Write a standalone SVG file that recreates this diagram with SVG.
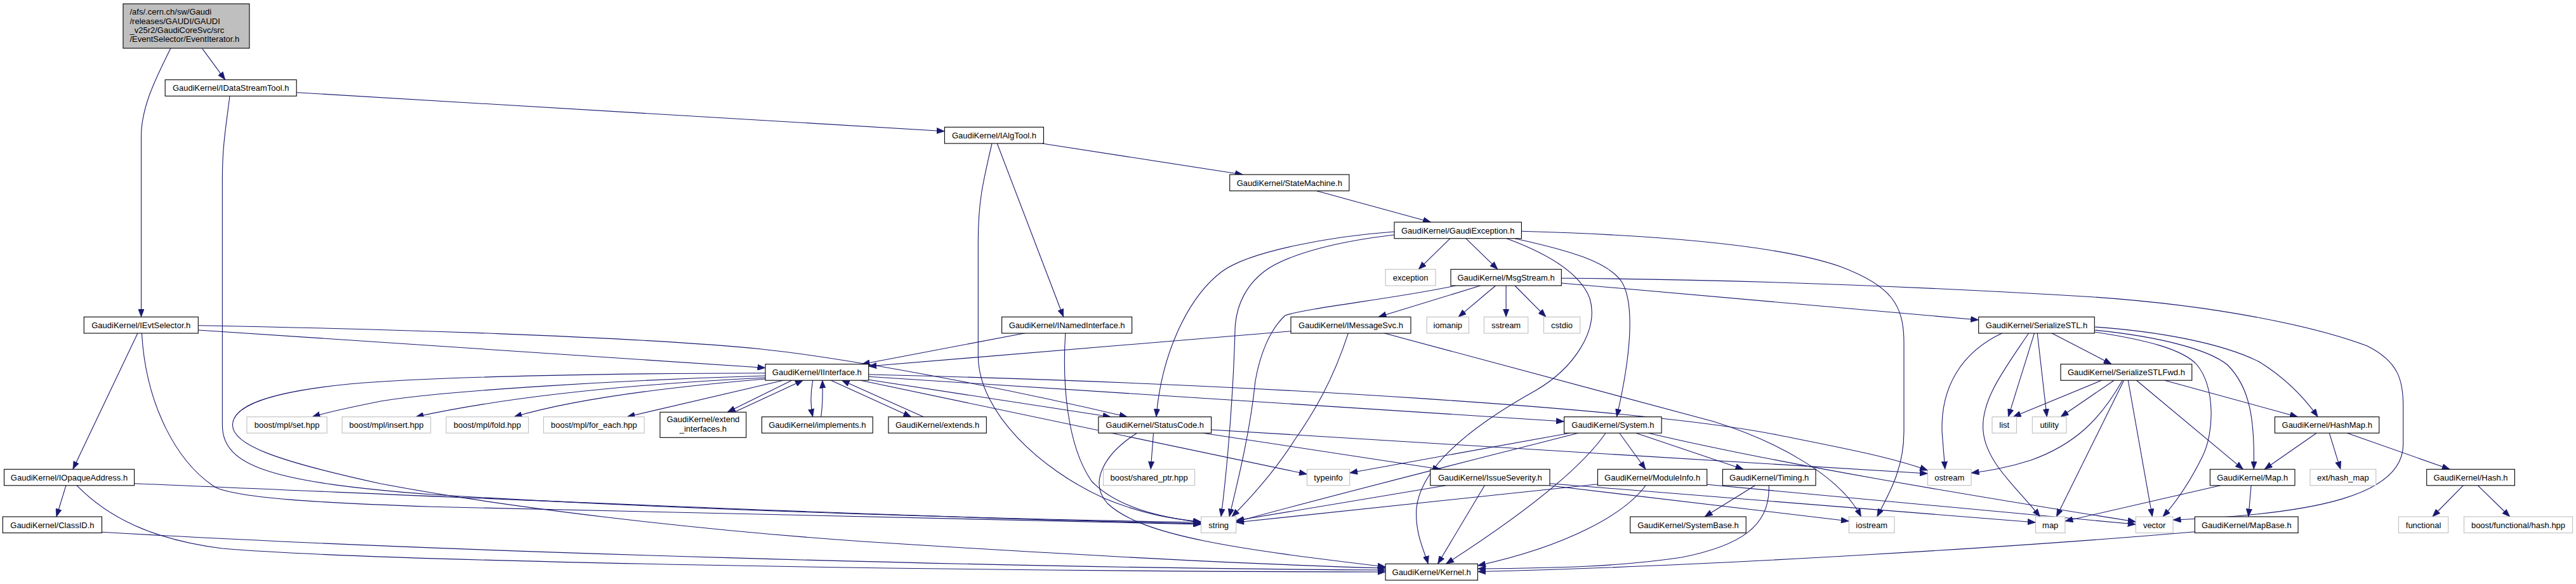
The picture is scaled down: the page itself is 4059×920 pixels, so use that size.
<svg xmlns="http://www.w3.org/2000/svg" width="4059" height="920" viewBox="0 0 4059 920">
<style>
text{font-family:"Liberation Sans",Arial,Helvetica,sans-serif;font-size:13px;fill:#000}
.n rect{fill:#fff;stroke:#000;stroke-width:1.1}
.x rect{fill:#fff;stroke:#bfbfbf;stroke-width:1.1}
.r rect{fill:#bfbfbf;stroke:#000;stroke-width:1.1}
.n text,.x text{text-anchor:middle}
#edges path{fill:none;stroke:#191970;stroke-width:1.1;marker-end:url(#a)}
</style>
<defs>
<marker id="a" viewBox="0 0 12.5 9.5" refX="12.5" refY="4.75" markerWidth="12.5" markerHeight="9.5" markerUnits="userSpaceOnUse" orient="auto">
<path d="M0,0 L12.5,4.75 L0,9.5 z" fill="#191970" stroke="#191970" stroke-width="0.6"/>
</marker>
</defs>
<rect width="4059" height="920" fill="#fff"/>
<g id="edges">
<path d="M318.8,76.7 L354.8,125.7"/>
<path d="M268.9,76 C250,115 222.5,165 222.5,215 L222.5,499.3"/>
<path d="M467.1,145.7 L1488.4,206.7"/>
<path d="M362,151.3 C356,200 350.4,230 350.4,280 L350.4,670 C350.4,735 430,760 680,779 C1100,805 1600,818 1892.6,823"/>
<path d="M1641.9,226 L1958.5,275"/>
<path d="M1571.2,226 L1675.7,499.3"/>
<path d="M1563,226 C1548,290 1541.3,320 1541.3,380 L1541.3,560 C1541.3,650 1640,740 1740,785 C1800,810 1850,818 1892.6,822"/>
<path d="M2074.7,300.7 L2254.7,350"/>
<path d="M2285,375.7 L2235.2,424.3"/>
<path d="M2309.8,375.7 L2360,424.3"/>
<path d="M2197,365 C2100,372 1970,395 1925,428 C1870,470 1830,560 1821.9,656.7"/>
<path d="M2197,370 C2110,380 2040,398 2000,422 C1965,445 1947,480 1946,520 C1944,600 1936,720 1924,814"/>
<path d="M2387,375.7 C2470,394 2535,412 2556,445 C2576,480 2570,560 2547.4,656.7"/>
<path d="M2397.4,364.3 C2600,370 2800,385 2900,420 C2980,450 3000,480 3000,540 L3000,680 C3000,740 2975,780 2957.7,814"/>
<path d="M2374,375.7 C2440,400 2490,430 2505,470 C2520,520 2480,580 2420,615 C2330,665 2240,730 2232,800 C2229,840 2245,870 2250.3,888.3"/>
<path d="M2332.7,450 L2172,499.3"/>
<path d="M2356.6,450 L2298,499.3"/>
<path d="M2373.1,450 L2373.1,499.3"/>
<path d="M2387,450 L2436,499.3"/>
<path d="M2293.7,450 C2200,470 2060,485 2025,497 C2000,520 1985,560 1978,600 C1970,680 1950,760 1937,814"/>
<path d="M2460.3,446 L3117.7,504"/>
<path d="M2460.3,438.3 C2700,440 3000,450 3300,468 C3500,482 3650,515 3730,545 C3780,570 3786.7,600 3786.7,640 L3786.7,700 C3786.7,780 3650,810 3424,819"/>
<path d="M3155.9,524.3 C3090,555 3058,610 3060,680 L3064.8,739.3"/>
<path d="M3197,524.3 C3160,580 3120,630 3125,680 C3130,730 3180,770 3214.4,814"/>
<path d="M3205.7,524.3 L3164.5,656.7"/>
<path d="M3210.1,524.3 L3225.3,656.7"/>
<path d="M3231.8,524.3 L3327.2,573.7"/>
<path d="M3312,599 L3172,656.7"/>
<path d="M3331.5,599 L3247,656.7"/>
<path d="M3344.5,599 C3310,660 3270,700 3200,725 C3160,738 3130,742 3106,745"/>
<path d="M3346.7,599 L3240.4,814"/>
<path d="M3353.2,599 L3391.4,814"/>
<path d="M3366.2,599 L3534.5,739.3"/>
<path d="M3410,599 L3620.7,656.7"/>
<path d="M3300.3,515 C3400,522 3500,540 3560,570 C3600,595 3630,625 3652.2,656.7"/>
<path d="M3300.3,520 C3400,530 3480,550 3510,575 C3545,610 3553,660 3551.3,739.3"/>
<path d="M3300.3,523 C3380,535 3440,550 3462,575 C3490,610 3490,680 3470,720 C3450,760 3430,790 3408,814"/>
<path d="M3650.1,682.2 L3568.1,739.3"/>
<path d="M3670.3,682.2 L3687.9,739.3"/>
<path d="M3698.4,682.2 L3860.2,739.3"/>
<path d="M3881.2,764.8 L3832.9,814"/>
<path d="M3904.4,764.8 L3954.8,814"/>
<path d="M3547.1,764.8 L3542.9,814"/>
<path d="M3498.8,764.8 L3253.9,821"/>
<path d="M3458.4,837.7 C3200,860 2700,892 2328.4,900.5"/>
<path d="M2034,521.7 L1368.7,577"/>
<path d="M2124.6,524.3 C2100,600 2070,650 2040,693 C2010,740 1975,780 1941,814"/>
<path d="M2178.8,524.3 L2700,664 C2800,695 2900,750 2932.5,814"/>
<path d="M1368.7,598.3 L1750.3,656.7"/>
<path d="M312.3,512.7 C600,518 1000,530 1200,550 C1350,566 1600,615 1776.3,656.7"/>
<path d="M312.3,520 L1206,579.5"/>
<path d="M1206,592 C1000,598 700,615 600,632 C560,640 520,648 492,656.7"/>
<path d="M1206,595 C1000,605 800,625 655,656.7"/>
<path d="M1206,597 C1050,610 900,630 810,656.7"/>
<path d="M1235.1,599 L987.9,656.7"/>
<path d="M1248.1,599 L1146.2,649.3"/>
<path d="M1157,649.3 L1265.5,599"/>
<path d="M1280.7,599 C1277,620 1277,640 1280.7,656.7"/>
<path d="M1293.7,656.7 C1296,640 1296.5,620 1295.9,599"/>
<path d="M1308.9,599 L1435.9,656.7"/>
<path d="M1455.4,656.7 L1326.2,599"/>
<path d="M1618,524.3 L1358,573.7"/>
<path d="M1368.7,590 C2000,605 2600,645 2800,685 C2900,705 2980,720 3037.5,741"/>
<path d="M1368.7,593.3 L2464.6,664"/>
<path d="M1355,599 L2059.5,747"/>
<path d="M1206,587.7 C1000,588 700,592 550,605 C420,618 366,640 366.5,670 C367,700 430,725 600,762 C800,800 1100,835 1360,853 C1700,875 2000,890 2183.1,895"/>
<path d="M216.9,525 L114.9,739.3"/>
<path d="M223.4,525 C230,640 280,730 340,768 C380,785 500,792 680,798.3 L1892.6,826"/>
<path d="M104.1,764.3 L88.9,814"/>
<path d="M211.6,761.7 C700,782 1400,815 1892.6,825"/>
<path d="M120.6,764.3 C170,815 240,850 350,864 C600,885 1500,900 2183.1,901"/>
<path d="M160.5,838.3 C700,870 1600,895 2183.1,898"/>
<path d="M1817.5,682.2 L1813.2,739.3"/>
<path d="M1791.5,682.2 C1740,715 1715,760 1745,793 C1800,845 1950,865 2183.1,893"/>
<path d="M1908.6,677 L3037.5,746"/>
<path d="M1895.6,682.2 L2270,739.3"/>
<path d="M2473.7,682.2 L2126.7,745"/>
<path d="M2486.7,682.2 C2300,730 2100,780 1947.7,822"/>
<path d="M2530,682.2 C2490,740 2400,810 2278.5,888.3"/>
<path d="M2551.8,682.2 L2593,739.3"/>
<path d="M2577.8,682.2 L2747,739.3"/>
<path d="M2597.3,682.2 C2800,730 3100,780 3365.3,822"/>
<path d="M2517.5,762.7 L1947.7,823"/>
<path d="M2593,764.8 C2560,810 2470,860 2328.4,891"/>
<path d="M2689.7,763.3 L3365.3,826"/>
<path d="M2278.5,764.8 L1947.7,820"/>
<path d="M2339.3,764.8 L2265.5,888.3"/>
<path d="M2442,761.7 L3207.5,823"/>
<path d="M2442,765 L2913.4,821"/>
<path d="M2765.5,764.8 L2686,814"/>
<path d="M2787.2,764.8 C2790,830 2740,860 2650,878 C2550,893 2450,895 2328.4,896"/>
<path d="M1678.8,524.3 C1674,600 1680,700 1720,758 C1760,800 1830,815 1892.6,823"/>
</g>
<g id="n_top" class="r"><rect x="194" y="6" width="199" height="70"/>
<text x="204.5" y="23.3">/afs/.cern.ch/sw/Gaudi</text><text x="204.5" y="37.6">/releases/GAUDI/GAUDI</text><text x="204.5" y="52">_v25r2/GaudiCoreSvc/src</text><text x="204.5" y="66.3">/EventSelector/EventIterator.h</text></g>
<g id="n_IDataStreamTool" class="n"><rect x="260.2" y="125.7" width="207" height="25.6"/><text x="363.7" y="143.2">GaudiKernel/IDataStreamTool.h</text></g>
<g id="n_IAlgTool" class="n"><rect x="1488.4" y="200.3" width="156" height="25.7"/><text x="1566.4" y="217.8">GaudiKernel/IAlgTool.h</text></g>
<g id="n_StateMachine" class="n"><rect x="1937.7" y="275" width="188.2" height="25.7"/><text x="2031.8" y="292.5">GaudiKernel/StateMachine.h</text></g>
<g id="n_GaudiException" class="n"><rect x="2197" y="350" width="200.4" height="25.7"/><text x="2297.2" y="367.5">GaudiKernel/GaudiException.h</text></g>
<g id="n_exception" class="x"><rect x="2183.1" y="424.3" width="79" height="25.7"/><text x="2222.6" y="441.8">exception</text></g>
<g id="n_MsgStream" class="n"><rect x="2286" y="424.3" width="174.3" height="25.7"/><text x="2373.1" y="441.8">GaudiKernel/MsgStream.h</text></g>
<g id="n_IEvtSelector" class="n"><rect x="132.3" y="499.3" width="180" height="25.7"/><text x="222.3" y="516.8">GaudiKernel/IEvtSelector.h</text></g>
<g id="n_INamedInterface" class="n"><rect x="1578.6" y="499.3" width="205" height="25.7"/><text x="1681.1" y="516.8">GaudiKernel/INamedInterface.h</text></g>
<g id="n_IMessageSvc" class="n"><rect x="2034" y="499.3" width="189" height="25.7"/><text x="2128.5" y="516.8">GaudiKernel/IMessageSvc.h</text></g>
<g id="n_iomanip" class="x"><rect x="2248.2" y="499.3" width="66.3" height="25.7"/><text x="2281.3" y="516.8">iomanip</text></g>
<g id="n_sstream" class="x"><rect x="2338.4" y="499.3" width="69.4" height="25.7"/><text x="2373.1" y="516.8">sstream</text></g>
<g id="n_cstdio" class="x"><rect x="2432.5" y="499.3" width="57.3" height="25.7"/><text x="2461.1" y="516.8">cstdio</text></g>
<g id="n_SerializeSTL" class="n"><rect x="3117.7" y="499.3" width="182.6" height="25.7"/><text x="3209" y="516.8">GaudiKernel/SerializeSTL.h</text></g>
<g id="n_IInterface" class="n"><rect x="1206" y="573.7" width="162.7" height="25.5"/><text x="1287.3" y="591.2">GaudiKernel/IInterface.h</text></g>
<g id="n_SerializeSTLFwd" class="n"><rect x="3247" y="573.7" width="206.8" height="25.5"/><text x="3350.4" y="591.2">GaudiKernel/SerializeSTLFwd.h</text></g>
<g id="n_mpl_set" class="x"><rect x="389" y="656.7" width="126.2" height="25.5"/><text x="452.1" y="674.2">boost/mpl/set.hpp</text></g>
<g id="n_mpl_insert" class="x"><rect x="539.1" y="656.7" width="139.6" height="25.5"/><text x="608.9" y="674.2">boost/mpl/insert.hpp</text></g>
<g id="n_mpl_fold" class="x"><rect x="703" y="656.7" width="129.7" height="25.5"/><text x="767.9" y="674.2">boost/mpl/fold.hpp</text></g>
<g id="n_mpl_for_each" class="x"><rect x="856.5" y="656.7" width="158.7" height="25.5"/><text x="935.9" y="674.2">boost/mpl/for_each.hpp</text></g>
<g id="n_extend_interfaces" class="n"><rect x="1040" y="649.3" width="135.7" height="40"/><text x="1107.9" y="665">GaudiKernel/extend</text><text x="1107.9" y="679.5">_interfaces.h</text></g>
<g id="n_implements" class="n"><rect x="1200.4" y="656.7" width="174.8" height="25.5"/><text x="1287.8" y="674.2">GaudiKernel/implements.h</text></g>
<g id="n_extends" class="n"><rect x="1399.9" y="656.7" width="154.4" height="25.5"/><text x="1477.1" y="674.2">GaudiKernel/extends.h</text></g>
<g id="n_StatusCode" class="n"><rect x="1730.8" y="656.7" width="177.8" height="25.5"/><text x="1819.7" y="674.2">GaudiKernel/StatusCode.h</text></g>
<g id="n_System" class="n"><rect x="2464.6" y="656.7" width="153.5" height="25.5"/><text x="2541.4" y="674.2">GaudiKernel/System.h</text></g>
<g id="n_list" class="x"><rect x="3139" y="656.7" width="38.5" height="25.5"/><text x="3158.3" y="674.2">list</text></g>
<g id="n_utility" class="x"><rect x="3202.3" y="656.7" width="53.7" height="25.5"/><text x="3229.2" y="674.2">utility</text></g>
<g id="n_HashMap" class="n"><rect x="3584.5" y="656.7" width="164.3" height="25.5"/><text x="3666.7" y="674.2">GaudiKernel/HashMap.h</text></g>
<g id="n_shared_ptr" class="x"><rect x="1738.6" y="739.3" width="144" height="25.5"/><text x="1810.6" y="756.8">boost/shared_ptr.hpp</text></g>
<g id="n_typeinfo" class="x"><rect x="2059.5" y="739.3" width="67.2" height="25.5"/><text x="2093.1" y="756.8">typeinfo</text></g>
<g id="n_IssueSeverity" class="n"><rect x="2253.8" y="739.3" width="188.2" height="25.5"/><text x="2347.9" y="756.8">GaudiKernel/IssueSeverity.h</text></g>
<g id="n_ModuleInfo" class="n"><rect x="2517.5" y="739.3" width="172.2" height="25.5"/><text x="2603.6" y="756.8">GaudiKernel/ModuleInfo.h</text></g>
<g id="n_Timing" class="n"><rect x="2714.4" y="739.3" width="146.6" height="25.5"/><text x="2787.7" y="756.8">GaudiKernel/Timing.h</text></g>
<g id="n_ostream" class="x"><rect x="3037.5" y="739.3" width="68.5" height="25.5"/><text x="3071.8" y="756.8">ostream</text></g>
<g id="n_Map" class="n"><rect x="3482.4" y="739.3" width="133.6" height="25.5"/><text x="3549.2" y="756.8">GaudiKernel/Map.h</text></g>
<g id="n_ext_hash_map" class="x"><rect x="3640" y="739.3" width="103.8" height="25.5"/><text x="3691.9" y="756.8">ext/hash_map</text></g>
<g id="n_Hash" class="n"><rect x="3823.7" y="739.3" width="138.7" height="25.5"/><text x="3893" y="756.8">GaudiKernel/Hash.h</text></g>
<g id="n_IOpaqueAddress" class="n"><rect x="6.5" y="739.3" width="205.1" height="25.5"/><text x="109" y="756.8">GaudiKernel/IOpaqueAddress.h</text></g>
<g id="n_ClassID" class="n"><rect x="4.3" y="814" width="156.2" height="25.5"/><text x="82.4" y="831.5">GaudiKernel/ClassID.h</text></g>
<g id="n_string" class="x"><rect x="1892.6" y="814" width="55.1" height="25.5"/><text x="1920.2" y="831.5">string</text></g>
<g id="n_SystemBase" class="n"><rect x="2568.7" y="814" width="182.5" height="25.5"/><text x="2660" y="831.5">GaudiKernel/SystemBase.h</text></g>
<g id="n_iostream" class="x"><rect x="2913.4" y="814" width="71.6" height="25.5"/><text x="2949.2" y="831.5">iostream</text></g>
<g id="n_map" class="x"><rect x="3207.5" y="814" width="46.4" height="25.5"/><text x="3230.7" y="831.5">map</text></g>
<g id="n_vector" class="x"><rect x="3365.3" y="814" width="58.7" height="25.5"/><text x="3394.6" y="831.5">vector</text></g>
<g id="n_MapBase" class="n"><rect x="3458.4" y="814" width="162.7" height="25.5"/><text x="3539.8" y="831.5">GaudiKernel/MapBase.h</text></g>
<g id="n_functional" class="x"><rect x="3779.5" y="814" width="78.2" height="25.5"/><text x="3818.6" y="831.5">functional</text></g>
<g id="n_boost_hash" class="x"><rect x="3882.5" y="814" width="171.1" height="25.5"/><text x="3968" y="831.5">boost/functional/hash.hpp</text></g>
<g id="n_Kernel" class="n"><rect x="2183.1" y="888.3" width="145.3" height="25.7"/><text x="2255.7" y="905.8">GaudiKernel/Kernel.h</text></g>
</svg>
